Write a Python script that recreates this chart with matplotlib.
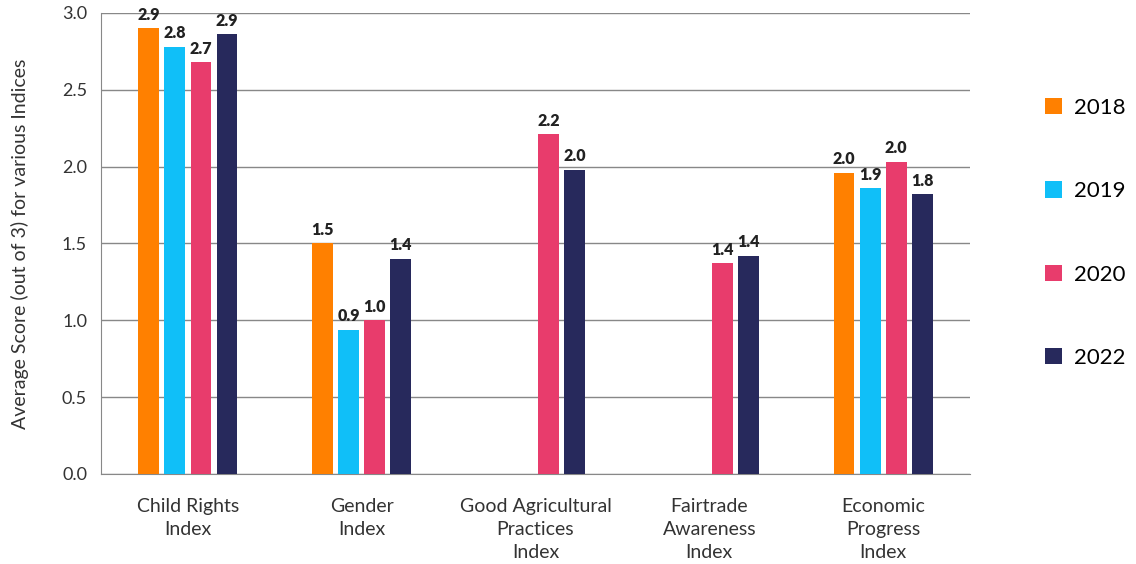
import numpy as np
import matplotlib.pyplot as plt

plt.rcParams['font.family'] = ['Lato', 'DejaVu Sans']

categories = ["Child Rights\nIndex", "Gender\nIndex", "Good Agricultural\nPractices\nIndex",
              "Fairtrade\nAwareness\nIndex", "Economic\nProgress\nIndex"]
years = ["2018", "2019", "2020", "2022"]
colors = ["#FF8000", "#10BFF8", "#E83C6C", "#27295C"]

v2018 = [2.90, 1.50, np.nan, np.nan, 1.96]
v2019 = [2.78, 0.94, np.nan, np.nan, 1.86]
v2020 = [2.68, 1.00, 2.21, 1.37, 2.03]
v2022 = [2.86, 1.40, 1.98, 1.42, 1.82]
series = [v2018, v2019, v2020, v2022]

fig = plt.figure(figsize=(11.36, 5.64), dpi=100)
ax = fig.add_axes([0.0889, 0.1596, 0.765, 0.8174])

x = np.arange(len(categories))
slot = 0.15
width = 0.12
handles = []
for i, (vals, c, yr) in enumerate(zip(series, colors, years)):
    pos = x + (i - 1.5) * slot
    b = ax.bar(pos, vals, width=width, color=c, label=yr, zorder=3)
    handles.append(b)
    for p, v in zip(pos, vals):
        if np.isnan(v):
            continue
        ax.annotate(f"{v:.1f}", (p, v), xytext=(0, 4), textcoords="offset points",
                    ha="center", va="bottom", fontsize=11.5, fontweight="heavy",
                    color="#222222", zorder=4)

ax.set_xlim(-0.5, len(categories) - 0.5)
ax.set_ylim(0, 3.0)
ax.set_yticks(np.arange(0, 3.01, 0.5))
ax.set_yticklabels([f"{t:.1f}" for t in np.arange(0, 3.01, 0.5)])
ax.set_xticks(x)
ax.set_xticklabels(categories, fontsize=14, color="#333333", linespacing=1.45)
ax.tick_params(axis="y", length=0, labelsize=13, labelcolor="#333333", pad=10)
ax.tick_params(axis="x", length=0, pad=17)
ax.grid(axis="y", color="#888888", linewidth=1, zorder=0)
for s in ["top", "right"]:
    ax.spines[s].set_visible(False)
ax.spines["left"].set_color("#888888")
ax.spines["bottom"].set_color("#888888")
ax.set_ylabel("Average Score (out of 3) for various Indices", fontsize=14,
              color="#333333", labelpad=24)

fig.legend(handles=handles, labels=years, loc="upper left", bbox_to_anchor=(0.912, 0.842),
           frameon=False, fontsize=16, handlelength=0.75, handleheight=0.75,
           handletextpad=0.55, labelspacing=2.85, borderaxespad=0)

plt.savefig("out.png", dpi=100)
